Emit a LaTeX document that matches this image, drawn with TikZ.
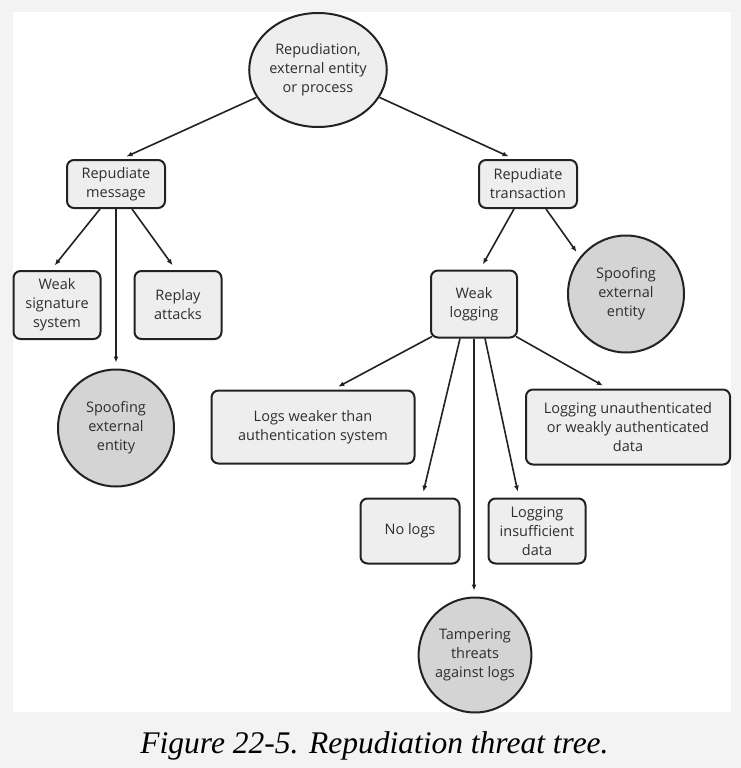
\documentclass[tikz,border=0pt]{standalone}
\usepackage{fontspec}
\setmainfont{Liberation Serif}
\newfontfamily\boxfont{Open Sans}
\usetikzlibrary{shapes.geometric, arrows.meta, positioning}
\definecolor{lightfill}{HTML}{EEEEEE}
\definecolor{darkfill}{HTML}{D4D4D4}
\definecolor{pagegray}{HTML}{F3F3F3}
\definecolor{inkgray}{HTML}{222222}
\definecolor{textgray}{HTML}{2E2E2E}

\begin{document}
\begin{tikzpicture}[x=1pt, y=-1pt,
  thr/.style={rectangle, rounded corners=7pt, draw=inkgray, line width=2pt, fill=lightfill, align=center, inner sep=0pt, text=textgray, font=\boxfont\fontsize{14.5}{19}\selectfont},
  leafthr/.style={ellipse, draw=inkgray, line width=2pt, fill=darkfill, align=center, inner sep=0pt, minimum width=116pt, minimum height=117pt, text=textgray, font=\boxfont\fontsize{14.5}{19}\selectfont},
  rootthr/.style={leafthr, fill=lightfill, minimum width=115pt, minimum height=114pt},
  link/.style={->, draw=inkgray, line width=1.6pt, shorten >=6pt},
  >={Latex[length=6pt, width=5pt]}]
\useasboundingbox (0,0) rectangle (741,768);
\fill[pagegray] (0,0) rectangle (741,768);
\fill[white] (13,12) rectangle (731,712);
\node[rootthr] (root) at (318,70) {Repudiation,\\external entity\\or process};
\node[thr, minimum width=98pt, minimum height=48pt] (msg) at (116,184) {Repudiate\\message};
\node[thr, minimum width=98pt, minimum height=48pt] (trans) at (528,184) {Repudiate\\transaction};
\node[thr, minimum width=87pt, minimum height=68pt] (weaksig) at (57,305) {Weak\\signature\\system};
\node[thr, minimum width=87pt, minimum height=68pt] (replay) at (178,305) {Replay\\attacks};
\node[leafthr] (spoofmsg) at (116,428) {Spoofing\\external\\entity};
\node[leafthr] (spooftrans) at (626,294) {Spoofing\\external\\entity};
\node[thr, minimum width=86pt, minimum height=67pt] (wlog) at (474,304) {Weak\\logging};
\node[thr, minimum width=203pt, minimum height=73pt] (logsweak) at (313,427) {Logs weaker than\\authentication system};
\node[thr, minimum width=204pt, minimum height=75pt] (unauth) at (628,427) {Logging unauthenticated\\or weakly authenticated\\data};
\node[thr, minimum width=99pt, minimum height=65pt] (nologs) at (410,531) {No logs};
\node[thr, minimum width=97pt, minimum height=65pt] (insuff) at (537,531) {Logging\\insufficient\\data};
\node[leafthr, minimum width=107pt, minimum height=115pt] (tamper) at (475,655) {Tampering\\threats\\against logs};
\node[font=\itshape\fontsize{31.5}{36}\selectfont, anchor=base] (caption) at (374.5,753) {Figure 22-5. Repudiation threat tree.};
\draw[link] (root.204) -- ([xshift=5pt]msg.north);
\draw[link] (root.336) -- ([xshift=-14pt]trans.north);
\draw[link] ([xshift=-16pt]msg.south) -- ([xshift=-6pt]weaksig.north);
\draw[link] (msg.south) -- (spoofmsg.north);
\draw[link] ([xshift=16pt]msg.south) -- ([xshift=-2pt]replay.north);
\draw[link] ([xshift=-14pt]trans.south) -- ([xshift=6pt]wlog.north);
\draw[link] ([xshift=18pt]trans.south) -- (spooftrans.141);
\draw[link] ([shift={(2pt,2pt)}]wlog.south west) -- ([xshift=20pt]logsweak.north);
\draw[link] ([xshift=-14pt]wlog.south) -- ([xshift=12pt]nologs.north);
\draw[link] (wlog.south) -- (wlog.south |- tamper.north);
\draw[link] ([xshift=11pt]wlog.south) -- ([xshift=-18pt]insuff.north);
\draw[link] ([shift={(-2pt,2pt)}]wlog.south east) -- ([xshift=-20pt]unauth.north);
\end{tikzpicture}
\end{document}
